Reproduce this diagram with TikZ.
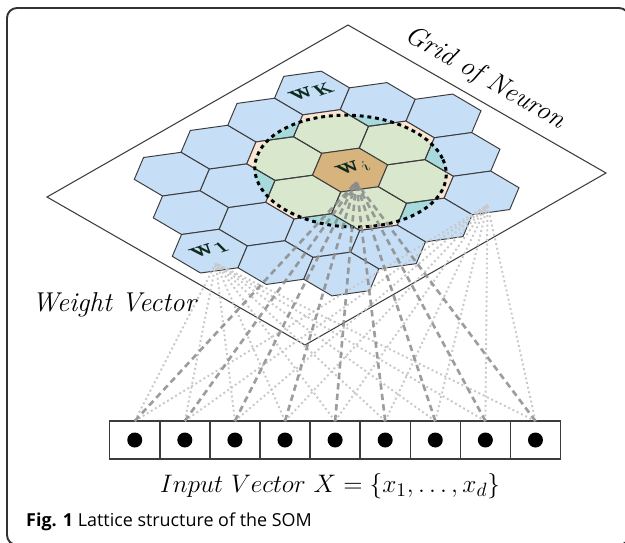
\documentclass[tikz,border=0pt]{standalone}
\usepackage{fontspec}
\newfontfamily\capfont{Open Sans}
\usetikzlibrary{positioning}
\definecolor{FrameInk}{HTML}{333333}
\definecolor{EdgeInk}{HTML}{3C3C3C}
\definecolor{HexBlue}{HTML}{C6DEF6}
\definecolor{HexPeach}{HTML}{FBE6D4}
\definecolor{HexGreen}{HTML}{D9E7CD}
\definecolor{HexTeal}{HTML}{A6DADD}
\definecolor{HexWin}{HTML}{D7B37E}
\definecolor{DashGray}{HTML}{8C8C8C}
\definecolor{DotGray}{HTML}{C8C8C8}
\definecolor{LabelInk}{HTML}{102A1E}

\begin{document}
\begin{tikzpicture}[x=0.02cm,y=-0.02cm,cellbox/.style={draw=EdgeInk,line width=0.8pt,fill=white,minimum width=1.002cm,minimum height=0.76cm,inner sep=0pt,outer sep=0pt},hexpath/.style={insert path={++(0:1)--++(120:1)--++(180:1)--++(240:1)--++(300:1)--++(0:1)--cycle}},hexedge/.style={draw=EdgeInk,line width=0.55pt},planelabel/.style={transform shape,rotate=15,inner sep=0pt,text=LabelInk,font=\fontsize{26}{28}\selectfont},ringdots/.style={line width=1.7pt,dash pattern=on 2.2pt off 2.2pt},winlink/.style={DashGray,line width=1.5pt,dash pattern=on 3.6pt off 2.4pt,opacity=.85},farlink/.style={DotGray,line width=1.1pt,dash pattern=on 1.1pt off 1.6pt}]
\useasboundingbox (0,0) rectangle (625,542);
\fill[white] (0,0) rectangle (625,542);\draw[FrameInk,line width=1.1pt,rounded corners=0.2cm] (7,8) rectangle (629,545);
% the plane
\draw[EdgeInk,fill=white,line width=0.6pt] (47,197)--(348,25)--(606,173)--(305,345)--cycle;
\node[font=\itshape\fontsize{15.5}{18}\selectfont,rotate=-30] (gridlbl) at (485,78) {Grid of Neuron};
\begin{scope}[shift={(350,170)},cm={0.75,0.104,-0.2194,0.4446,(0,0)},x=1cm,y=1cm]
\foreach \i/\j in {0/2,1/1,2/0,2/-1,2/-2,1/-2,0/-2,-1/-1,-2/0,-2/1,-2/2,-1/2,-3/2,-3/1,-3/0,-2/-1,-1/-2}
  \draw[hexedge,fill=HexBlue] ({1.5*\i},{0.866*\i+1.732*\j}) [hexpath];
\foreach \i/\j in {0/1,0/-1,1/0,-1/0,1/-1,-1/1}
  \draw[hexedge,fill=HexPeach] ({1.5*\i},{0.866*\i+1.732*\j}) [hexpath];
\begin{scope}
\clip (0,-0.05) circle[radius=2.45];\fill[HexTeal] (0,0) circle[radius=2.6];
\foreach \i/\j in {0/1,0/-1,1/0,-1/0,1/-1,-1/1} \fill[HexGreen] ({1.5*\i},{0.866*\i+1.732*\j}) [hexpath];
\foreach \i/\j in {0/1,0/-1,1/0,-1/0,1/-1,-1/1,0/2,1/1,2/0,2/-1,2/-2,1/-2,0/-2,-1/-1,-2/0,-2/1,-2/2,-1/2} \draw[hexedge] ({1.5*\i},{0.866*\i+1.732*\j}) [hexpath];
\end{scope}
\draw[hexedge,fill=HexWin] (0,0) [hexpath];
\draw[ringdots] (0,-0.05) circle[radius=2.45];
\node[planelabel] (wk) at (0,3.5) {$\mathbf{w}_{\mathbf{K}}$};\node[planelabel] (wone) at (-4.5,-2.55) {$\mathbf{w}_{\mathbf{1}}$};\node[planelabel] (wi) at (0.1,0.05) {$\mathbf{w}_{i}$};
\coordinate (pwi) at (0,-0.55);\coordinate (pwone) at (-4.5,-3.15);\coordinate (pwr) at (3,-2.28);
\end{scope}
% input vector
\node[cellbox] (x1) at (134.75,440) {};
\foreach \k [remember=\k as \p (initially 1)] in {2,...,9} \node[cellbox,right=0pt of x\p] (x\k) {};
\foreach \k in {1,...,9}{\draw[farlink] (x\k.north)--(pwone);\draw[farlink] (x\k.north)--(pwr);}
\foreach \k in {1,...,9}{\draw[winlink] (x\k.north)--(pwi);\fill (x\k.center) circle[radius=0.15cm];}
\node[anchor=west,font=\itshape\fontsize{15.5}{18}\selectfont] (wvec) at (26,305) {Weight Vector};
\node[font=\fontsize{15}{18}\selectfont] (ivec) at (330,486) {$Input\ Vector\ X=\{x_1,\ldots,x_d\}$};
\node[anchor=west,font=\capfont\fontsize{10.2}{12}\selectfont] (cap) at (20,522) {\textbf{Fig. 1} Lattice structure of the SOM};
\end{tikzpicture}
\end{document}
